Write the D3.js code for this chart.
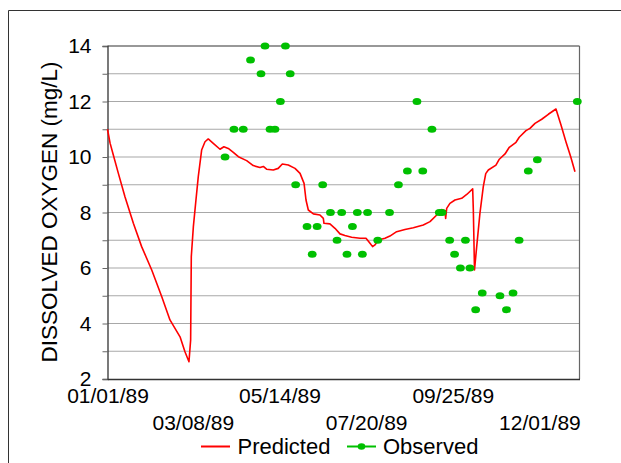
<!DOCTYPE html>
<html>
<head>
<meta charset="utf-8">
<script src="https://cdn.jsdelivr.net/npm/d3@7"></script>
<style>
  html, body { margin: 0; padding: 0; background: #fff; }
  svg { display: block; font-family: "Liberation Sans", Arial, sans-serif; }
</style>
</head>
<body>
<svg id="chart" width="621" height="463"></svg>
<script>
// ---- Data (days since 01/01/89) ----
const predDays = [0, 2, 4.5, 8.4, 13.5, 20, 26.4, 34.2, 41.9, 48.3, 56.1, 59.9, 63, 64.3, 64.8, 66.4, 68.4, 70.2, 72.8, 75.4, 77.9, 81.8, 87, 90, 93.4, 97.3, 101.2, 107.6, 112.7, 117.9, 120.5, 123, 128.2, 132, 135.2, 139.8, 145, 148.9, 152, 153.5, 155.3, 159.2, 164.3, 166.9, 167.4, 172, 175.9, 179.8, 183.6, 188.8, 195.3, 199.9, 203, 205, 206.8, 209.4, 214.6, 218.4, 223.6, 230, 236.5, 244.2, 249.4, 254.6, 258.4, 261, 261.5, 262.3, 264.8, 268.7, 273.9, 277.8, 282.4, 282.9, 283.8, 285.5, 288, 290.6, 292.5, 294.5, 300.4, 303, 307.4, 310.7, 315.9, 318.4, 323.6, 326.7, 330.6, 335.8, 340.9, 346.8, 350.7, 354.5, 358.2, 361.5];
const predVals = [11.0, 10.5, 10.07, 9.41, 8.57, 7.61, 6.77, 5.93, 4.97, 4.13, 3.52, 2.98, 2.62, 3.41, 6.41, 7.49, 8.45, 9.29, 10.25, 10.55, 10.65, 10.49, 10.28, 10.37, 10.31, 10.17, 10.01, 9.87, 9.69, 9.62, 9.66, 9.56, 9.53, 9.59, 9.75, 9.71, 9.59, 9.41, 9.05, 8.45, 8.09, 7.95, 7.91, 7.79, 7.61, 7.59, 7.43, 7.23, 7.17, 7.11, 7.07, 7.07, 6.89, 6.77, 6.83, 7.01, 7.07, 7.15, 7.31, 7.39, 7.45, 7.55, 7.67, 7.91, 8.11, 8.06, 7.79, 8.15, 8.33, 8.45, 8.51, 8.65, 8.85, 8.09, 5.93, 6.77, 7.97, 8.93, 9.4, 9.53, 9.71, 9.92, 10.11, 10.35, 10.53, 10.71, 10.95, 11.03, 11.21, 11.36, 11.54, 11.73, 11.15, 10.55, 10.01, 9.47];

const obsDays = [90.9, 97.8, 105.0, 110.6, 118.7, 121.8, 125.7, 129.5, 133.7, 137.6, 141.3, 145.5, 154.3, 158.3, 162.1, 166.4, 172.4, 177.5, 181.1, 185.2, 189.4, 193.2, 197.1, 201.1, 209.0, 218.1, 225.0, 231.9, 239.3, 243.8, 250.9, 256.6, 258.7, 264.6, 268.4, 272.9, 276.8, 280.3, 284.7, 289.8, 303.5, 308.5, 313.6, 318.3, 325.4, 332.4, 363.3];
const obsVals = [10, 11, 11, 13.5, 13, 14, 11, 11, 12, 14, 13, 9, 7.5, 6.5, 7.5, 9, 8, 7, 8, 6.5, 7.5, 8, 6.5, 8, 7, 8, 9, 9.5, 12, 9.5, 11, 8, 8, 7, 6.5, 6, 7, 6, 4.5, 5.1, 5, 4.5, 5.1, 7, 9.5, 9.9, 12];

const xTickLabels = ["01/01/89", "03/08/89", "05/14/89", "07/20/89", "09/25/89", "12/01/89"];
const yTicks = [2, 4, 6, 8, 10, 12, 14];
const yTitle = "DISSOLVED OXYGEN (mg/L)";
const seriesNames = ["Predicted", "Observed"];

// ---- Layout ----
const svg = d3.select("#chart");
const L = 107.5, R = 579.5, T = 46, B = 379;
const parse = d3.utcParse("%m/%d/%y");
const start = parse("01/01/89");
const toDate = d => new Date(start.getTime() + d * 86400000);

const x = d3.scaleUtc().domain([start, parse("01/01/90")]).range([L, R]);
const y = d3.scaleLinear().domain([2, 14]).range([B, T]);

// outer frame
svg.append("path").attr("d", "M8.5,700 V10.5 H700").attr("fill", "none").attr("stroke", "#333").attr("stroke-width", 1);

// gridlines every unit
const grid = d3.range(3, 14);
svg.append("g").selectAll("line").data(grid).join("line")
  .attr("x1", L).attr("x2", R)
  .attr("y1", d => y(d)).attr("y2", d => y(d))
  .attr("stroke", "#a8a8a8").attr("stroke-width", 1.2);

// plot frame top/right
svg.append("line").attr("x1", L).attr("x2", R).attr("y1", T).attr("y2", T).attr("stroke", "#333").attr("stroke-width", 1.2);
svg.append("line").attr("x1", R).attr("x2", R).attr("y1", T).attr("y2", B).attr("stroke", "#666").attr("stroke-width", 1.2);

// y axis
const yAxis = d3.axisLeft(y).tickValues(d3.range(2, 15)).tickSize(5).tickFormat(d => yTicks.includes(d) ? d : "");
const gy = svg.append("g").attr("transform", `translate(${L},0)`).call(yAxis);
gy.select(".domain").attr("stroke", "#333").attr("stroke-width", 1.3);
gy.selectAll(".tick line").attr("stroke", "#666");
gy.selectAll(".tick text").attr("font-size", 21).attr("fill", "#000").attr("x", -16)
  .attr("font-family", "Liberation Sans, Arial, sans-serif");

// x axis
const xTickDates = xTickLabels.map(parse);
const xAxis = d3.axisBottom(x).tickValues(xTickDates).tickSize(0).tickFormat(d3.utcFormat("%m/%d/%y"));
const gx = svg.append("g").attr("transform", `translate(0,${B})`).call(xAxis);
gx.select(".domain").attr("stroke", "#333").attr("stroke-width", 1.3);
gx.selectAll(".tick text").attr("font-size", 21).attr("fill", "#000")
  .attr("font-family", "Liberation Sans, Arial, sans-serif")
  .attr("dy", null)
  .attr("y", (d, i) => i % 2 === 0 ? 24 : 51);

// y title
svg.append("text").attr("transform", `translate(56.5,${(T + B) / 2 - 0.5}) rotate(-90)`)
  .attr("text-anchor", "middle").attr("font-size", 22.5).attr("fill", "#000").text(yTitle);

// predicted line
const pred = predDays.map((d, i) => [toDate(d), predVals[i]]);
svg.append("path").datum(pred)
  .attr("fill", "none").attr("stroke", "#ff0000").attr("stroke-width", 1.6).attr("stroke-linejoin", "round")
  .attr("d", d3.line().x(d => x(d[0])).y(d => y(d[1])));

// observed points
const obs = obsDays.map((d, i) => [toDate(d), obsVals[i]]);
svg.append("g").selectAll("ellipse").data(obs).join("ellipse")
  .attr("cx", d => x(d[0])).attr("cy", d => y(d[1]))
  .attr("rx", 4.4).attr("ry", 3.5).attr("fill", "#00c000");

// legend
const lg = svg.append("g");
lg.append("line").attr("x1", 201).attr("x2", 230).attr("y1", 446.5).attr("y2", 446.5).attr("stroke", "#ff0000").attr("stroke-width", 2);
lg.append("text").attr("x", 237.5).attr("y", 454).attr("font-size", 22).attr("fill", "#000").text(seriesNames[0]);
lg.append("line").attr("x1", 347).attr("x2", 376).attr("y1", 446.5).attr("y2", 446.5).attr("stroke", "#00c000").attr("stroke-width", 2);
lg.append("ellipse").attr("cx", 361.5).attr("cy", 446.5).attr("rx", 3.8).attr("ry", 3.2).attr("fill", "#00c000");
lg.append("text").attr("x", 383).attr("y", 454).attr("font-size", 22).attr("fill", "#000").text(seriesNames[1]);
</script>
</body>
</html>
